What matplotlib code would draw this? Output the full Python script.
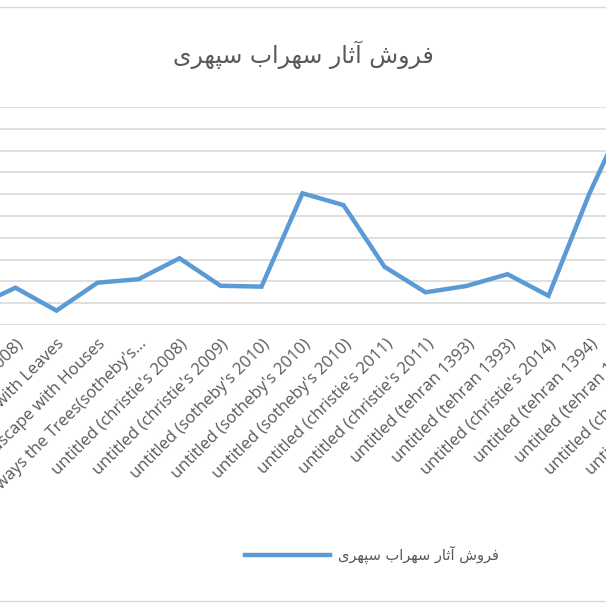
import matplotlib
matplotlib.use("Agg")
import matplotlib.pyplot as plt

# Arabic title in visual order with presentation forms
w1 = "\uFEB5\uFEED\uFEAE\uFED3"          # فروش
w2 = "\uFEAD\uFE8E\uFE9B\uFE81"          # آثار
w3 = "\uFE8F\uFE8D\uFEAE\uFEEC\uFEB3"    # سهراب
w4 = "\uFBFC\uFEAE\uFEEC\uFB59\uFEB3"    # سپهری
title = " ".join([w4, w3, w2, w1])

labels = ["Landscape (christie's 2008)", "... (2008)", "Branch with Leaves", "Landscape with Houses",
          "Always the Trees(sotheby's...", "untitled (christie's 2008)", "untitled (christie's 2009)",
          "untitled (sotheby's 2010)", "untitled (sotheby's 2010)", "untitled (sotheby's 2010)",
          "untitled (christie's 2011)", "untitled (christie's 2011)", "untitled (tehran 1393)",
          "untitled (tehran 1393)", "untitled (christie's 2014)", "untitled (tehran 1394)",
          "untitled (tehran 1394)", "untitled (christie's 2015)", "untitled (christie's 2015)"]
values = [0.83, 1.71, 0.66, 1.94, 2.10, 3.06, 1.80, 1.76, 6.04, 5.50,
          2.67, 1.50, 1.79, 2.33, 1.34, 6.04, 10.1]

W = 606.0
fig = plt.figure(figsize=(6.06, 6.06), dpi=100)
x0 = 15.5 - 41 * 2  # px of index -1
ax = fig.add_axes([x0 / W, (606 - 325) / W, 41 * 20 / W, 218 / W])
ax.set_xlim(-1, 19)
ax.set_ylim(0, 10)
for v in range(11):
    ax.axhline(v, color="#d9d9d9", lw=1.2, zorder=0)
ax.plot(range(len(values)), values, color="#5B9BD5", lw=3.2, clip_on=False,
        solid_joinstyle="miter", zorder=3)
ax.set_xticks(range(len(labels)))
ax.set_xticklabels(labels, rotation=45, ha="right", rotation_mode="anchor",
                   fontsize=12, color="#595959", family=["Open Sans", "DejaVu Sans"])
ax.tick_params(axis="x", length=0, pad=8)
ax.set_yticks([])
for s in ax.spines.values():
    s.set_visible(False)

fig.text(0.5, 1 - 55 / W, title, ha="center", va="center", fontsize=17,
         color="#595959", family=["DejaVu Sans", "Noto Sans"])
fig.lines.append(plt.Line2D([245 / W, 330 / W], [1 - 555 / W] * 2, color="#5B9BD5",
                            lw=3.2, transform=fig.transFigure))
fig.text(338 / W, 1 - 555 / W, title, ha="left", va="center", fontsize=10.5,
         color="#595959", family=["DejaVu Sans", "Noto Sans"])
fig.patches.append(plt.Rectangle((-0.01, 0.008), 1.02, 0.98, fill=False,
                                 ec="#d9d9d9", lw=1, transform=fig.transFigure))
fig.savefig("out.png", dpi=100)
